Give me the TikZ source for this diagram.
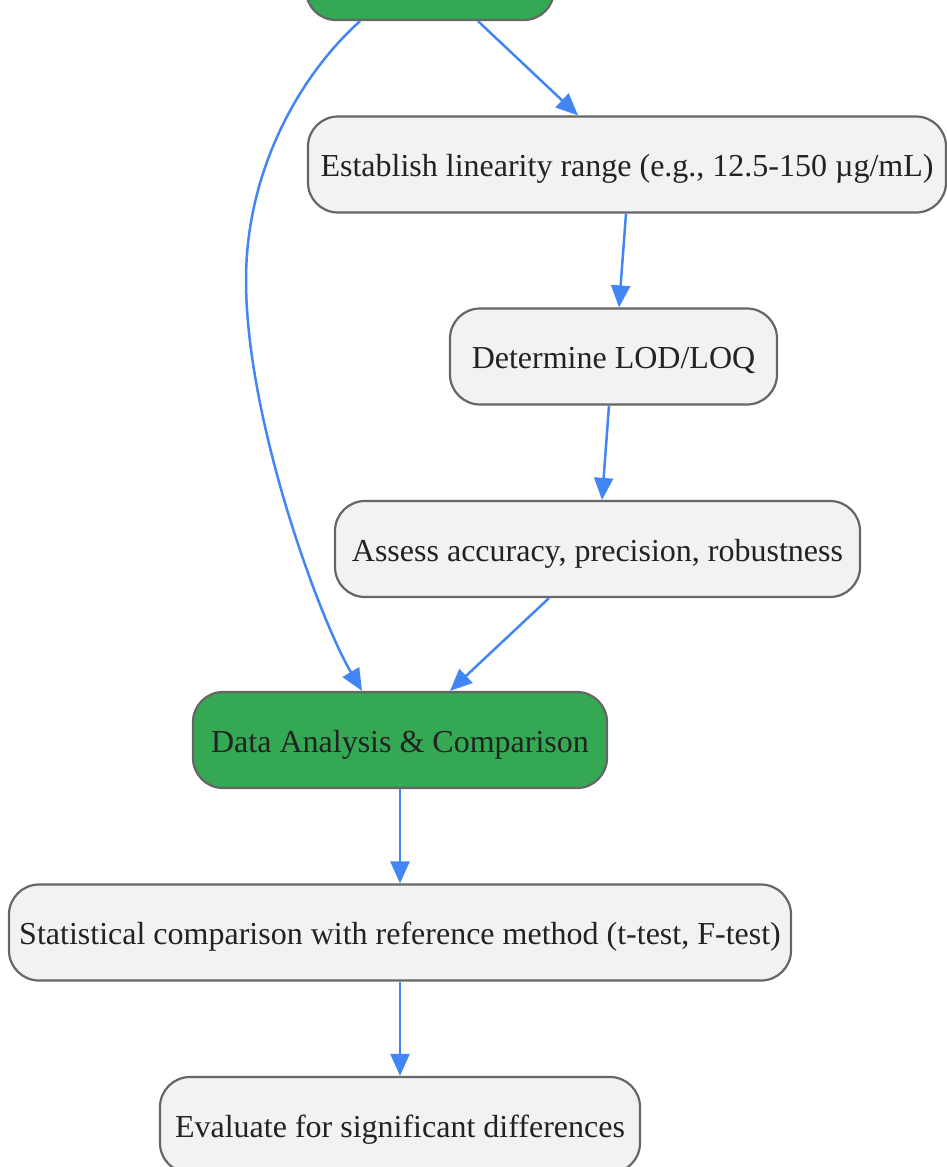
\documentclass[tikz,border=0pt]{standalone}
\usepackage{fontspec}
\setmainfont{Liberation Serif}
\usetikzlibrary{arrows.meta}
\definecolor{boxfill}{HTML}{F1F2F4}
\definecolor{boxline}{HTML}{666666}
\definecolor{greenfill}{HTML}{34A853}
\definecolor{flowblue}{HTML}{4285F4}
\definecolor{textgray}{HTML}{222222}

\begin{document}
\begin{tikzpicture}[x=1pt, y=-1pt,
    box/.style={draw=boxline, fill=boxfill, line width=2.2pt, rounded corners=30pt, inner sep=0pt, minimum height=96pt, text height=28pt, text depth=4pt, text=textgray, font=\fontsize{32}{36}\selectfont},
    greenbox/.style={box, fill=greenfill},
    flow/.style={draw=flowblue, line width=2.5pt, -{Triangle[length=22pt, width=19pt]}}]

            % Fix the page to the picture size
            \useasboundingbox (0,0) rectangle (947,1167);
            \clip (0,0) rectangle (947,1167);

            % Draw the boxes
            \node[greenbox, minimum width=248pt] (top) at (430,-28) {};
            \node[box, minimum width=638pt] (range) at (627,164.5) {Establish linearity range (e.g., 12.5-150 µg/mL)};
            \node[box, minimum width=327pt] (lod) at (613.5,356.5) {Determine LOD/LOQ};
            \node[box, minimum width=525pt] (assess) at (597.5,549) {Assess accuracy, precision, robustness};
            \node[greenbox, minimum width=414pt] (data) at (400,740) {Data Analysis \& Comparison};
            \node[box, minimum width=782pt] (stat) at (400,932.5) {Statistical comparison with reference method (t-test, F-test)};
            \node[box, minimum width=480pt] (eval) at (400,1125) {Evaluate for significant differences};

            % Draw the long curve on the left
            \draw[flow] ([xshift=-70pt]top.south) .. controls (300,75) and (246,170) .. (246,280)
                .. controls (246,420) and (320,620) .. ([xshift=-38pt]data.north);

            % Draw the arrows down the right side
            \draw[flow] ([xshift=48pt]top.south) -- ([xshift=-49pt]range.north);
            \draw[flow] ([xshift=-1pt]range.south) -- ([xshift=5.5pt]lod.north);
            \draw[flow] ([xshift=-4.5pt]lod.south) -- ([xshift=4.5pt]assess.north);
            \draw[flow] ([xshift=-48.5pt]assess.south) -- ([xshift=50pt]data.north);

            % Draw the arrows below the green box
            \draw[flow] (data.south) -- (stat.north);
            \draw[flow] (stat.south) -- (eval.north);

\end{tikzpicture}
\end{document}
